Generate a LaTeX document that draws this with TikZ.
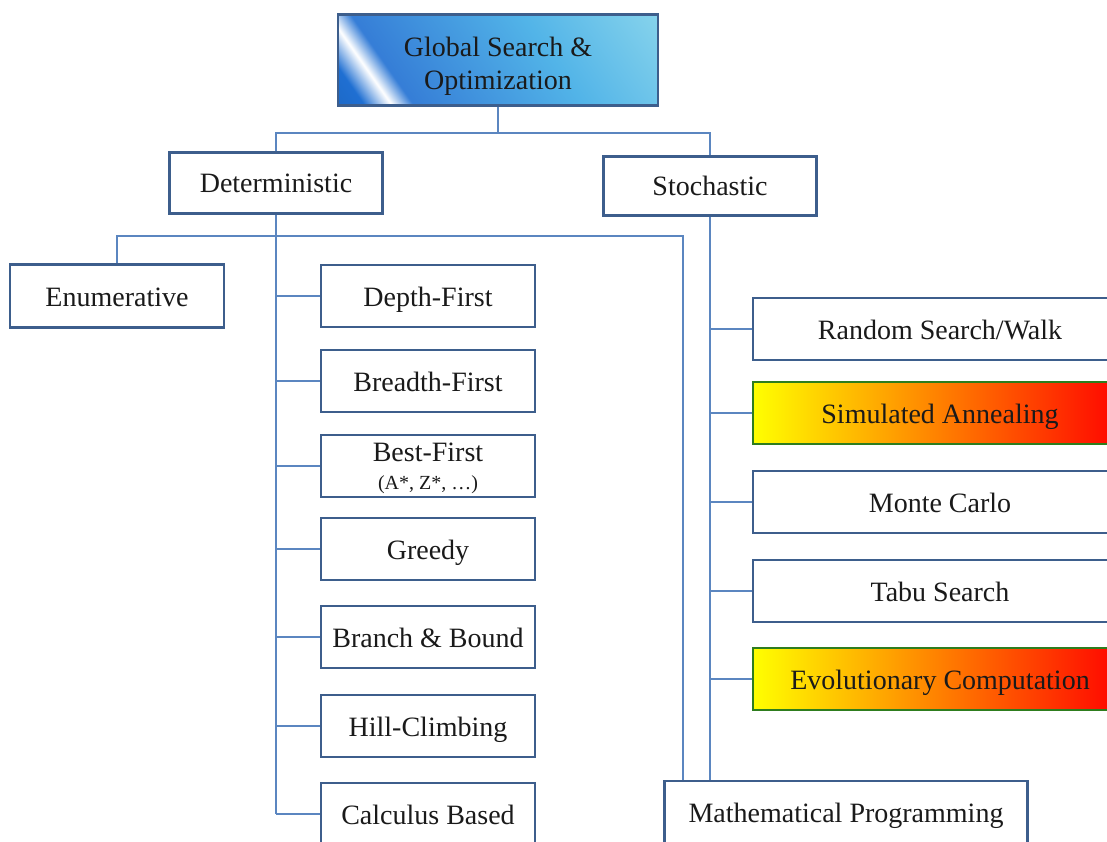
\documentclass[tikz,border=0pt]{standalone}
\usepackage{fontspec}
\setmainfont{Liberation Serif}
\definecolor{boxline}{HTML}{3D5E8C}
\definecolor{wire}{HTML}{5B86C0}
\definecolor{gblue}{HTML}{1F6FD2}
\definecolor{gsky}{HTML}{52B4E8}
\definecolor{gcyan}{HTML}{A6E6EE}
\definecolor{hotline}{HTML}{2E7D1E}
\definecolor{ink}{HTML}{1A1A1A}
\pgfdeclarehorizontalshading{globfill}{100bp}{color(0bp)=(gblue!80!black); color(20bp)=(gblue); color(25bp)=(white); color(29bp)=(gblue!90); color(60bp)=(gsky); color(100bp)=(gcyan)}
\begin{document}
\begin{tikzpicture}[x=1pt,y=-1pt,
		every node/.style={font=\fontsize{28}{33}\selectfont, text=ink},
		box/.style={draw=boxline, line width=2.4pt, fill=white, rectangle, align=center, inner sep=2pt, text height=22pt, text depth=2pt},
		twoline/.style={text height=, text depth=},
		detbox/.style={box, minimum width=214pt, minimum height=62pt},
		stobox/.style={box, minimum width=374pt, minimum height=62pt},
		hotbox/.style={stobox, draw=hotline, left color=yellow, middle color=orange, right color=red},
		conn/.style={draw=wire, line width=1.3pt}]
		\useasboundingbox (0,0) rectangle (1107,842);
		\clip (0,0) rectangle (1107,842);
		\node[box, twoline, minimum width=320pt, minimum height=91pt, shading=globfill, shading angle=35] (glob) at (498,60) {\rule{0pt}{32pt}Global Search \&\\Optimization};
		\node[box, minimum width=213pt, minimum height=61pt] (det) at (276,183) {Deterministic};
		\node[box, minimum width=213pt, minimum height=59pt] (sto) at (710,186) {Stochastic};
		\node[detbox, minimum height=63pt] (enum) at (117,296) {Enumerative};
		\node[detbox] (dfs) at (428,296) {Depth-First};
		\node[detbox] (bfs) at (428,381) {Breadth-First};
		\node[detbox, twoline] (best) at (428,466) {\rule{0pt}{24pt}Best-First\\[-5pt]{\fontsize{20}{24}\selectfont (A*, Z*, …)}};
		\node[detbox] (greedy) at (428,549) {Greedy};
		\node[detbox] (bnb) at (428,637) {Branch \& Bound};
		\node[detbox] (hill) at (428,726) {Hill-Climbing};
		\node[detbox] (calc) at (428,814) {Calculus Based};
		\node[stobox] (rsw) at (940,329) {Random Search/Walk};
		\node[hotbox] (sa) at (940,413) {Simulated Annealing};
		\node[stobox] (mc) at (940,502) {Monte Carlo};
		\node[stobox] (tabu) at (940,591) {Tabu Search};
		\node[hotbox] (evo) at (940,679) {Evolutionary Computation};
		\node[box, minimum width=363pt, minimum height=62pt] (math) at (846,812) {Mathematical Programming};
		\coordinate (jtop) at (498,133);
		\coordinate (bend) at (683,236);
		\draw[conn] (glob.south) -- (jtop);
		\draw[conn] (det.north) |- (jtop) -| (sto.north);
		\draw[conn] (enum.north) |- (bend) -- (bend |- math.north);
		\draw[conn] (det.south) -- (det.south |- calc.west);
		\foreach \kid in {dfs,bfs,best,greedy,bnb,hill,calc}
			\draw[conn] (det.south |- \kid.west) -- (\kid.west);
		\draw[conn] (sto.south) -- (sto.south |- math.north);
		\foreach \kid in {rsw,sa,mc,tabu,evo}
			\draw[conn] (sto.south |- \kid.west) -- (\kid.west);
	\end{tikzpicture}
\end{document}
